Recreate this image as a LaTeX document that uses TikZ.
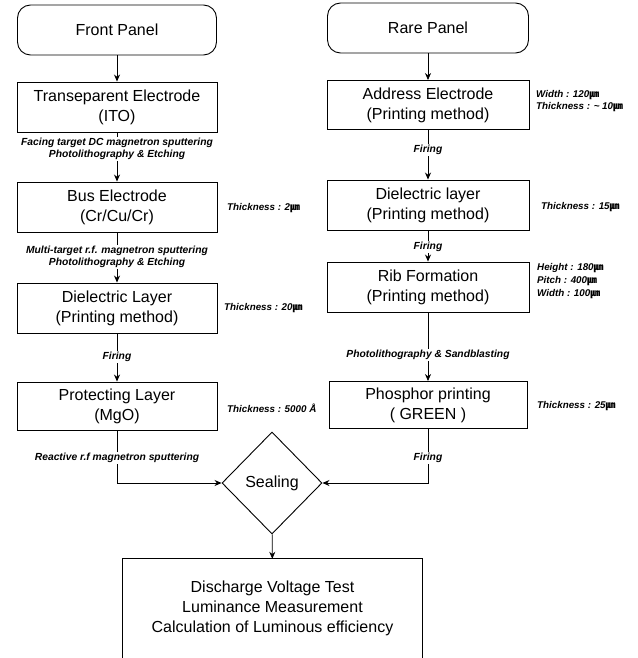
\documentclass[tikz,border=0pt]{standalone}
\usepackage{fontspec}
\setmainfont{Liberation Sans}
\newfontfamily\cjk{Noto Sans CJK SC}
\usetikzlibrary{arrows.meta,shapes.geometric}
\newcommand\um{{\cjk ㎛}}
\tikzset{
  panel/.style={draw,line width=0.9pt,rounded corners=13pt,minimum width=199pt,minimum height=50pt,
    font=\fontsize{16}{20}\selectfont},
  stepbox/.style={draw,line width=0.9pt,minimum width=200pt,minimum height=50pt,align=center,
    inner sep=0pt,font=\fontsize{16}{20}\selectfont},
  proc/.style={font=\fontsize{10.3}{12}\selectfont\bfseries\itshape,align=center,fill=white,inner sep=1pt},
  note/.style={font=\fontsize{9.8}{12}\selectfont\bfseries\itshape,align=left,anchor=west,inner sep=0pt},
  link/.style={line width=0.8pt},
  flow/.style={line width=0.8pt,-{Stealth[length=7pt,width=6pt]}}
}
\begin{document}
\begin{tikzpicture}[x=1pt,y=-1pt]
\useasboundingbox (0,0) rectangle (637,658);
\clip (0,0) rectangle (637,658);

% front panel column
\node[panel] (fp) at (117,30) {Front Panel};
\node[stepbox] (te) at (117,107) {Transeparent Electrode\\(ITO)};
\node[stepbox] (be) at (117,207) {Bus Electrode\\(Cr/Cu/Cr)};
\node[stepbox] (dl) at (117,308) {Dielectric Layer\\(Printing method)};
\node[stepbox,minimum height=48pt] (pl) at (117,406) {Protecting Layer\\(MgO)};

\node[proc] (p1) at (117,149) {Facing target DC magnetron sputtering\\Photolithography \& Etching};
\node[proc] (p2) at (117,257) {Multi-target r.f. magnetron sputtering\\Photolithography \& Etching};
\node[proc] (p3) at (117,357) {Firing};
\node[proc] (p4) at (117,458) {Reactive r.f magnetron sputtering};

\node[note] (n1) at (227,208) {Thickness : 2\um};
\node[note] (n2) at (224,308) {Thickness : 20\um};
\node[note] (n3) at (227,408) {Thickness : 5000 Å};

% rear panel column
\node[panel,minimum width=201pt] (rp) at (428,28) {Rare Panel};
\node[stepbox,minimum width=202pt,minimum height=49pt] (ae) at (428,105) {Address Electrode\\(Printing method)};
\node[stepbox,minimum width=202pt] (dr) at (428,205) {Dielectric layer\\(Printing method)};
\node[stepbox,minimum width=202pt] (rf) at (428,287) {Rib Formation\\(Printing method)};
\node[stepbox,minimum width=198pt,minimum height=47pt] (pp) at (428,405) {Phosphor printing\\( GREEN )};

\node[proc] (q1) at (428,150) {Firing};
\node[proc] (q2) at (428,247) {Firing};
\node[proc] (q3) at (428,355) {Photolithography \& Sandblasting};
\node[proc] (q4) at (428,458) {Firing};

\node[note] (m1) at (536,101) {Width : 120\um\\Thickness : \textasciitilde{} 10\um};
\node[note,font=\fontsize{9.8}{13}\selectfont\bfseries\itshape] (m3) at (537,281) {Height : 180\um\\Pitch : 400\um\\Width : 100\um};
\node[note] (m2) at (541,207) {Thickness : 15\um};
\node[note] (m4) at (537,406) {Thickness : 25\um};

% sealing and final test
\node[diamond,draw,line width=0.9pt,minimum width=100pt,minimum height=102pt,inner sep=0pt,
  font=\fontsize{16}{20}\selectfont] (seal) at (272,483) {Sealing};
\node[minimum width=299pt,minimum height=99pt,align=center,inner sep=0pt,
  font=\fontsize{16}{20}\selectfont] (test) at (272.5,608.5)
  {Discharge Voltage Test\\Luminance Measurement\\Calculation of Luminous efficiency};
\draw[line width=0.9pt] (test.south west) |- (test.north east) -- (test.south east);

% connectors, front panel
\draw[flow] (fp) -- (te);
\draw[link] (te) -- (p1);
\draw[flow] (p1) -- (be);
\draw[link] (be) -- (p2);
\draw[flow] (p2) -- (dl);
\draw[link] (dl) -- (p3);
\draw[flow] (p3) -- (pl);
\draw[link] (pl) -- (p4);
\draw[flow] (p4) |- (seal.west);

% connectors, rear panel
\draw[flow] (rp) -- (ae);
\draw[link] (ae) -- (q1);
\draw[flow] (q1) -- (dr);
\draw[link] (dr) -- (q2);
\draw[flow] (q2) -- (rf);
\draw[link] (rf) -- (q3);
\draw[flow] (q3) -- (pp);
\draw[link] (pp) -- (q4);
\draw[flow] (q4) |- (seal.east);

\draw[flow] (seal) -- (test);
\end{tikzpicture}
\end{document}
